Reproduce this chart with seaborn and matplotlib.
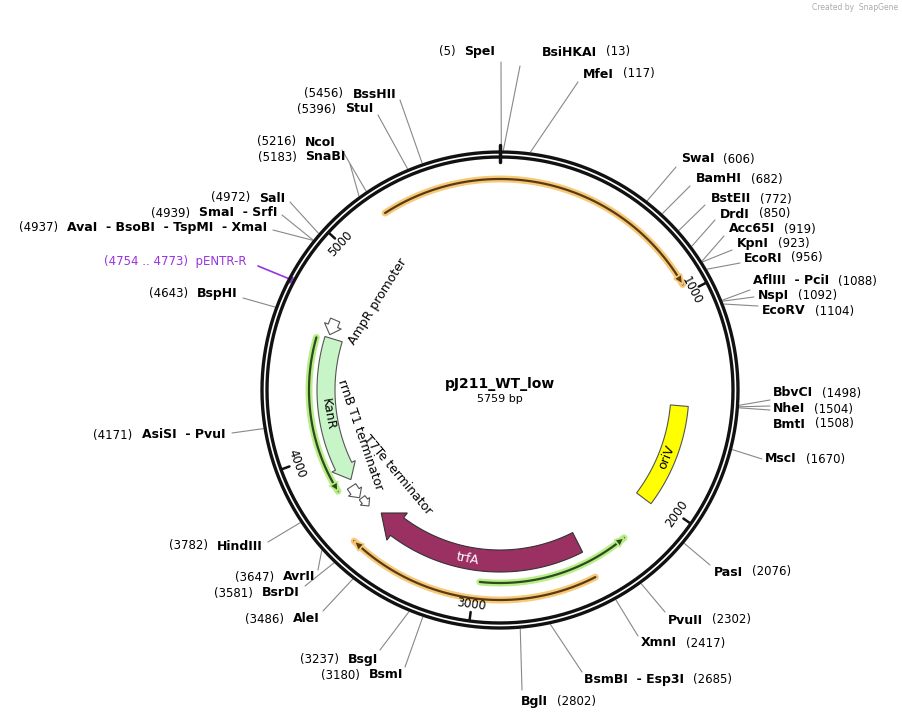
import numpy as np
import pandas as pd
import matplotlib
matplotlib.use("Agg")
import matplotlib.pyplot as plt
from matplotlib.patches import Polygon
import seaborn as sns

sns.set_style("white")
plt.rcParams['font.family'] = ['DejaVu Sans']
plt.rcParams['text.color'] = 'black'

# ---------------- data ----------------
plasmid_name = "pJ211_WT_low"
plasmid_len = 5759

site_names = ["SpeI", "BsiHKAI", "MfeI", "SwaI", "BamHI", "BstEII", "DrdI", "Acc65I", "KpnI",
              "EcoRI", "AflIII  - PciI", "NspI", "EcoRV", "BbvCI", "NheI", "BmtI", "MscI",
              "PasI", "PvuII", "XmnI", "BsmBI  - Esp3I", "BglI", "BsmI", "BsgI", "AleI",
              "BsrDI", "AvrII", "HindIII", "AsiSI  - PvuI", "BspHI",
              "AvaI  - BsoBI  - TspMI  - XmaI", "SmaI  - SrfI", "SalI", "SnaBI", "NcoI",
              "StuI", "BssHII"]
site_positions = [5, 13, 117, 606, 682, 772, 850, 919, 923, 956, 1088, 1092, 1104, 1498, 1504,
                  1508, 1670, 2076, 2302, 2417, 2685, 2802, 3180, 3237, 3486, 3581, 3647, 3782,
                  4171, 4643, 4937, 4939, 4972, 5183, 5216, 5396, 5456]

primer_name = "pENTR-R"
primer_start, primer_end = 4754, 4773

feat_names = ["trfA", "KanR", "oriV", "AmpR promoter", "rrnB T1 terminator", "T7Te terminator"]

tick_values = [1000, 2000, 3000, 4000, 5000]

# ---------------- layout ----------------
CX, CY = 500, 390
fig = plt.figure(figsize=(9.02, 7.19), dpi=100)
ax = fig.add_axes([0, 0, 1, 1])
ax.set_xlim(0, 902)
ax.set_ylim(719, 0)
ax.axis("off")


def ang(pos):
    return pos / plasmid_len * 360.0


def pt(a, r):
    t = np.radians(a)
    return CX + r * np.sin(t), CY - r * np.cos(t)


def arc(a0, a1, r, n=120):
    a = np.linspace(a0, a1, n)
    return pt(a, r)


# ring
th = np.linspace(0, 360, 721)
for r in (238, 233):
    x, y = pt(th, r)
    ax.plot(x, y, color="#111111", lw=2.4, zorder=3)
x, y = zip(pt(0, 228), pt(0, 245))
ax.plot(x, y, color="#111111", lw=2.5, zorder=4)

# ticks
for tv in tick_values:
    a = ang(tv)
    x, y = zip(pt(a, 233), pt(a, 224))
    ax.plot(x, y, color="#111111", lw=1.8, zorder=4)
    rot = -a
    while rot <= -90:
        rot += 180
    while rot > 90:
        rot -= 180
    lx, ly = pt(a, 216)
    ax.text(lx, ly, str(tv), rotation=rot, ha="center", va="center", fontsize=8.5, zorder=4)


def thin_arc(a0, a1, r, halo, core):
    xs, ys = arc(a0, a1, r)
    df = pd.DataFrame({"x": xs, "y": ys})
    sns.lineplot(data=df, x="x", y="y", sort=False, ax=ax, color=halo, lw=5, zorder=2)
    sns.lineplot(data=df, x="x", y="y", sort=False, ax=ax, color=core, lw=1.6, zorder=2.1)
    sgn = 1 if a1 > a0 else -1
    base = a1 - sgn * 2.6
    tri = [pt(a1, r), pt(base, r + 4.5), pt(base, r - 4.5)]
    ax.add_patch(Polygon(tri, closed=True, fc=core, ec=halo, lw=1.2, zorder=2.2))


thin_arc(-33, 60, 211, "#f7c97a", "#5a3a10")       # top orange
thin_arc(153, 224, 210, "#f7c97a", "#5a3a10")      # bottom orange
thin_arc(186, 140, 193, "#b8ee88", "#2e4a1e")      # bottom green
thin_arc(286, 238, 191, "#b8ee88", "#2e4a1e")      # left green


def arrow_poly(a0, a1, r, w, head_deg, head_w):
    sgn = 1 if a1 > a0 else -1
    base = a1 - sgn * head_deg
    ox, oy = arc(a0, base, r + w / 2, 80)
    ix, iy = arc(base, a0, r - w / 2, 80)
    return (list(zip(ox, oy)) + [pt(base, r + head_w / 2), pt(a1, r), pt(base, r - head_w / 2)]
            + list(zip(ix, iy)))


def box_poly(a0, a1, r, w):
    ox, oy = arc(a0, a1, r + w / 2, 80)
    ix, iy = arc(a1, a0, r - w / 2, 80)
    return list(zip(ox, oy)) + list(zip(ix, iy))


# trfA
ax.add_patch(Polygon(arrow_poly(153, 224, 171, 22, 7, 34), fc="#9b3062", ec="#333333", lw=0.8, zorder=2))
lx, ly = pt(191, 172)
ax.text(lx, ly, feat_names[0], color="white", fontsize=9, rotation=-11, ha="center", va="center", zorder=3)

# KanR
ax.add_patch(Polygon(arrow_poly(287, 239, 174, 18, 5, 26), fc="#c8f5c8", ec="#555555", lw=0.8, zorder=2))
lx, ly = pt(262, 174)
ax.text(lx, ly, feat_names[1], fontsize=9, rotation=-80, ha="center", va="center", zorder=3)

# oriV
ax.add_patch(Polygon(box_poly(95, 127, 180, 18), fc="#ffff00", ec="#555555", lw=0.8, zorder=2))
lx, ly = pt(112, 180)
ax.text(lx, ly, feat_names[2], fontsize=9, rotation=68, ha="center", va="center", zorder=3)

# small white arrows
ax.add_patch(Polygon(arrow_poly(293, 288, 179, 10, 3, 18), fc="white", ec="#555555", lw=0.8, zorder=2))
ax.add_patch(Polygon(arrow_poly(237, 232.5, 177, 10, 2.5, 16), fc="white", ec="#555555", lw=0.8, zorder=2))
ax.add_patch(Polygon(arrow_poly(232, 228.5, 175, 7, 2, 12), fc="white", ec="#555555", lw=0.8, zorder=2))
ax.text(378, 302, feat_names[3], fontsize=9, rotation=58, ha="center", va="center")
ax.text(360, 435, feat_names[4], fontsize=9, rotation=-71, ha="center", va="center")
ax.text(398, 475, feat_names[5], fontsize=9, rotation=-50, ha="center", va="center")

# center
ax.text(CX, 384, plasmid_name, fontsize=10, fontweight="bold", ha="center", va="center")
ax.text(CX, 399, f"{plasmid_len} bp", fontsize=8, ha="center", va="center")

# ---------------- site labels ----------------
label_layout = [
    ("L", 495, 52, 501, 62), ("R", 542, 52, 520, 66), ("R", 583, 74, 578, 82),
    ("R", 681, 159, 676, 167), ("R", 696, 179, 690, 186), ("R", 711, 199, 705, 205),
    ("R", 720, 214, 715, 220), ("R", 729, 229, 724, 236), ("R", 737, 244, 732, 250),
    ("R", 744, 258, 740, 263), ("R", 753, 281, 750, 290), ("R", 758, 296, 754, 297),
    ("R", 762, 311, 758, 306), ("R", 773, 393, 770, 400), ("R", 773, 409, 770, 406),
    ("R", 773, 424, 770, 410), ("R", 765, 459, 762, 459), ("R", 714, 572, 710, 565),
    ("R", 668, 620, 665, 612), ("R", 641, 643, 638, 636), ("R", 584, 679, 582, 672),
    ("R", 521, 701, 522, 690), ("L", 403, 675, 405, 667), ("L", 378, 660, 380, 650),
    ("L", 320, 619, 323, 611), ("L", 300, 593, 305, 586), ("L", 315, 577, 318, 570),
    ("L", 263, 546, 268, 542), ("L", 225, 435, 232, 433), ("L", 238, 294, 243, 298),
    ("L", 267, 228, 273, 230), ("L", 277, 213, 282, 215), ("L", 285, 198, 290, 202),
    ("L", 346, 157, 350, 164), ("L", 336, 142, 342, 150), ("L", 373, 109, 378, 115),
    ("L", 396, 94, 400, 100),
]

fig.canvas.draw()
renderer = fig.canvas.get_renderer()
inv = ax.transData.inverted()


def width_of(t):
    bb = t.get_window_extent(renderer=renderer)
    (x0, _), (x1, _) = inv.transform([[bb.x0, bb.y0], [bb.x1, bb.y1]])
    return abs(x1 - x0)


for name, pos, (side, tx, ty, ex, ey) in zip(site_names, site_positions, label_layout):
    a = ang(pos)
    sx, sy = pt(a, 240)
    ax.plot([sx, ex], [sy, ey], color="#888888", lw=0.8, zorder=1)
    num = f"({pos})"
    if side == "R":
        t = ax.text(tx, ty, name, fontsize=9, fontweight="bold", ha="left", va="center")
        w = width_of(t)
        ax.text(tx + w + 9, ty, num, fontsize=8.5, ha="left", va="center")
    else:
        t = ax.text(tx, ty, name, fontsize=9, fontweight="bold", ha="right", va="center")
        w = width_of(t)
        ax.text(tx - w - 9, ty, num, fontsize=8.5, ha="right", va="center")

# primer
pc = "#9933dd"
pa = ang((primer_start + primer_end) / 2)
px, py = pt(pa, 240)
ax.plot([258, px], [266, py], color=pc, lw=1.2)
x0, y0 = pt(ang(primer_start), 236)
x1, y1 = pt(ang(primer_end), 236)
ax.plot([x0, x1], [y0, y1], color=pc, lw=2)
ax.text(246, 262, f"({primer_start} .. {primer_end})  {primer_name}", color=pc, fontsize=8.5,
        ha="right", va="center")

ax.text(898, 8, "Created by  SnapGene", color="#aaaaaa", fontsize=5.5, ha="right", va="center")

fig.savefig("out.png", dpi=100)
